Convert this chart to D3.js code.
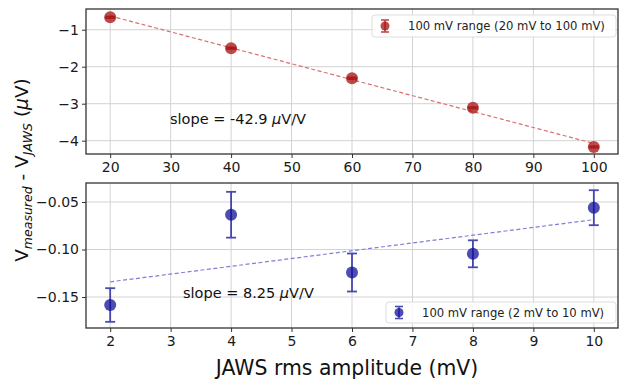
<!DOCTYPE html>
<html>
<head>
<meta charset="utf-8">
<script src="https://cdn.jsdelivr.net/npm/d3@7"></script>
<style>
  body { margin: 0; background: #fff; }
  text { font-family: "DejaVu Sans", sans-serif; }
</style>
</head>
<body>
<svg id="chart" width="620" height="381"></svg>
<script>
// data
const topX = [20, 40, 60, 80, 100];
const topY = [-0.665, -1.50, -2.31, -3.11, -4.17];
const topErr = [0.02, 0.02, 0.02, 0.02, 0.02];
const topTicksX = [20, 30, 40, 50, 60, 70, 80, 90, 100];
const topTicksY = [-1, -2, -3, -4];

const botX = [2, 4, 6, 8, 10];
const botY = [-0.1584, -0.0634, -0.1242, -0.1045, -0.0560];
const botErr = [0.0177, 0.0241, 0.0200, 0.0142, 0.0184];
const botTicksX = [2, 3, 4, 5, 6, 7, 8, 9, 10];
const botTicksY = [-0.05, -0.10, -0.15];

const svg = d3.select('#chart');

// least squares line through the points
const fit = (xs, ys) => {
  const mx = d3.mean(xs);
  const my = d3.mean(ys);
  const sxy = d3.sum(xs, (x, i) => (x - mx) * (ys[i] - my));
  const sxx = d3.sum(xs, (x) => (x - mx) * (x - mx));
  const m = sxy / sxx;
  return { m, b: my - m * mx };
};

const panel = (opts) => {
  const {
    xs, ys, errs, ticksX, ticksY, xDom, yDom, box, color, lineColor,
    fmtY, legendText, legendBox, slopeText, slopePos,
  } = opts;
  const x = d3.scaleLinear().domain(xDom).range([box.left, box.right]);
  const y = d3.scaleLinear().domain(yDom).range([box.bottom, box.top]);
  const g = svg.append('g');

  // grid
  g.selectAll('.gx').data(ticksX).enter().append('line')
    .attr('x1', (d) => x(d)).attr('x2', (d) => x(d))
    .attr('y1', box.top).attr('y2', box.bottom)
    .attr('stroke', '#d3d3d3').attr('stroke-width', 1);
  g.selectAll('.gy').data(ticksY).enter().append('line')
    .attr('y1', (d) => y(d)).attr('y2', (d) => y(d))
    .attr('x1', box.left).attr('x2', box.right)
    .attr('stroke', '#d3d3d3').attr('stroke-width', 1);

  // axes
  const ax = g.append('g')
    .attr('transform', `translate(0,${box.bottom})`)
    .call(d3.axisBottom(x).tickValues(ticksX).tickSize(4).tickPadding(4)
      .tickFormat(d3.format('d')));
  const ay = g.append('g')
    .attr('transform', `translate(${box.left},0)`)
    .call(d3.axisLeft(y).tickValues(ticksY).tickSize(4).tickPadding(3)
      .tickFormat(fmtY));
  [ax, ay].forEach((a) => {
    a.select('.domain').remove();
    a.selectAll('text').attr('font-size', 14).attr('fill', '#1a1a1a');
    a.selectAll('line').attr('stroke', '#333');
  });

  // fit line
  const f = fit(xs, ys);
  g.append('line')
    .attr('x1', x(xs[0])).attr('y1', y(f.m * xs[0] + f.b))
    .attr('x2', x(xs[xs.length - 1])).attr('y2', y(f.m * xs[xs.length - 1] + f.b))
    .attr('stroke', lineColor).attr('stroke-width', 1.2)
    .attr('stroke-dasharray', '4,2.5');

  // error bars
  const pts = xs.map((d, i) => ({ x: d, y: ys[i], e: errs[i] }));
  const eb = g.selectAll('.eb').data(pts).enter().append('g')
    .attr('stroke', color).attr('stroke-width', 1.8).attr('opacity', 0.75);
  eb.append('line')
    .attr('x1', (d) => x(d.x)).attr('x2', (d) => x(d.x))
    .attr('y1', (d) => y(d.y + d.e)).attr('y2', (d) => y(d.y - d.e));
  eb.append('line')
    .attr('x1', (d) => x(d.x) - 5).attr('x2', (d) => x(d.x) + 5)
    .attr('y1', (d) => y(d.y + d.e)).attr('y2', (d) => y(d.y + d.e));
  eb.append('line')
    .attr('x1', (d) => x(d.x) - 5).attr('x2', (d) => x(d.x) + 5)
    .attr('y1', (d) => y(d.y - d.e)).attr('y2', (d) => y(d.y - d.e));
  g.selectAll('.pt').data(pts).enter().append('circle')
    .attr('cx', (d) => x(d.x)).attr('cy', (d) => y(d.y)).attr('r', 6)
    .attr('fill', color).attr('opacity', 0.75);

  // frame
  g.append('rect')
    .attr('x', box.left).attr('y', box.top)
    .attr('width', box.right - box.left).attr('height', box.bottom - box.top)
    .attr('fill', 'none').attr('stroke', '#333').attr('stroke-width', 1.3);

  // slope note
  const st = g.append('text').attr('x', slopePos[0]).attr('y', slopePos[1])
    .attr('font-size', 14.5).attr('fill', '#111');
  st.append('tspan').text(`slope = ${slopeText} `);
  st.append('tspan').attr('font-style', 'italic').text('\u03bc');
  st.append('tspan').text('V/V');

  // legend
  const lg = g.append('g');
  lg.append('rect')
    .attr('x', legendBox[0]).attr('y', legendBox[1])
    .attr('width', legendBox[2]).attr('height', legendBox[3])
    .attr('rx', 3).attr('fill', '#fff').attr('fill-opacity', 0.85)
    .attr('stroke', '#ddd');
  const mx = legendBox[0] + 13;
  const my = legendBox[1] + legendBox[3] / 2;
  const lm = lg.append('g').attr('stroke', color).attr('stroke-width', 1.6)
    .attr('opacity', 0.75);
  lm.append('line').attr('x1', mx).attr('x2', mx).attr('y1', my - 6).attr('y2', my + 6);
  lm.append('line').attr('x1', mx - 4).attr('x2', mx + 4).attr('y1', my - 6).attr('y2', my - 6);
  lm.append('line').attr('x1', mx - 4).attr('x2', mx + 4).attr('y1', my + 6).attr('y2', my + 6);
  lg.append('circle').attr('cx', mx).attr('cy', my).attr('r', 4.5)
    .attr('fill', color).attr('opacity', 0.75);
  lg.append('text').attr('x', legendBox[0] + 36).attr('y', my + 4)
    .attr('font-size', 11.6).attr('fill', '#222').text(legendText);
};

panel({
  xs: topX, ys: topY, errs: topErr, ticksX: topTicksX, ticksY: topTicksY,
  xDom: [16, 104], yDom: [-4.36, -0.44],
  box: { left: 86, right: 618, top: 9, bottom: 154 },
  color: '#a50f0f', lineColor: '#d9706f',
  fmtY: (d) => `\u2212${Math.abs(d)}`,
  legendText: '100 mV range (20 mV to 100 mV)',
  legendBox: [372, 15, 244, 22],
  slopeText: '-42.9', slopePos: [170, 124],
});

panel({
  xs: botX, ys: botY, errs: botErr, ticksX: botTicksX, ticksY: botTicksY,
  xDom: [1.6, 10.4], yDom: [-0.1826, -0.030],
  box: { left: 86, right: 618, top: 183, bottom: 328 },
  color: '#10109a', lineColor: '#7f7fd8',
  fmtY: (d) => `\u2212${d3.format('.2f')(Math.abs(d))}`,
  legendText: '100 mV range (2 mV to 10 mV)',
  legendBox: [386, 302, 230, 21],
  slopeText: '8.25', slopePos: [183, 298],
});

// axis titles
svg.append('text')
  .attr('x', 347).attr('y', 375).attr('text-anchor', 'middle')
  .attr('font-size', 20.4).attr('fill', '#111')
  .text('JAWS rms amplitude (mV)');

const yl = svg.append('text')
  .attr('transform', 'translate(28,170) rotate(-90)')
  .attr('text-anchor', 'middle').attr('font-size', 18.5).attr('fill', '#111');
yl.append('tspan').text('V');
yl.append('tspan').attr('font-size', 12.5).attr('font-style', 'italic')
  .attr('dy', 4).text('measured');
yl.append('tspan').attr('dy', -4).text(' - V');
yl.append('tspan').attr('font-size', 12.5).attr('font-style', 'italic')
  .attr('dy', 4).text('JAWS');
yl.append('tspan').attr('dy', -4).text(' (');
yl.append('tspan').attr('font-style', 'italic').text('\u03bc');
yl.append('tspan').text('V)');
</script>
</body>
</html>
